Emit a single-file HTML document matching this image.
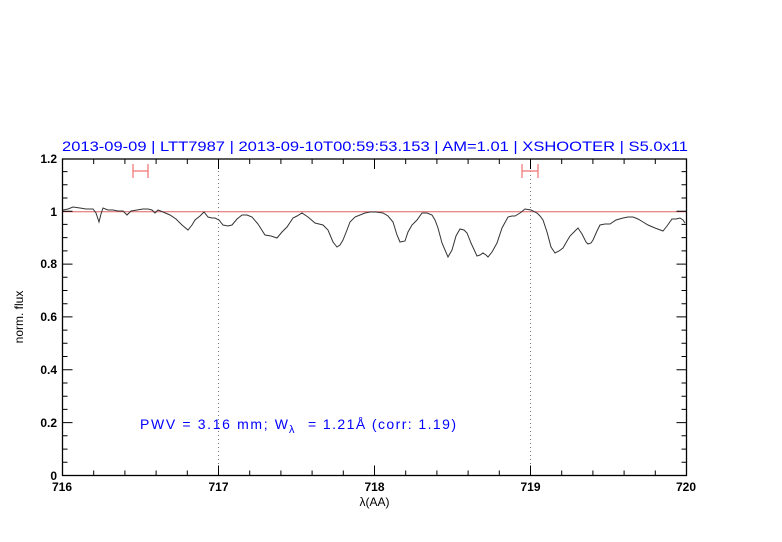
<!DOCTYPE html>
<html><head><meta charset="utf-8"><style>
html,body{margin:0;padding:0;background:#fff;}
svg{display:block;}
text{font-family:"Liberation Sans",sans-serif;}
</style></head><body>
<svg width="782" height="542" viewBox="0 0 782 542" xmlns="http://www.w3.org/2000/svg">
<rect width="782" height="542" fill="#fff"/>
<text x="62" y="151" font-size="14" fill="#0000ff" textLength="626" lengthAdjust="spacingAndGlyphs">2013-09-09 | LTT7987 | 2013-09-10T00:59:53.153 | AM=1.01 | XSHOOTER | S5.0x11</text>
<line x1="62.5" y1="211.7" x2="686.5" y2="211.7" stroke="#e06060" stroke-width="1"/>
<line x1="218.5" y1="159" x2="218.5" y2="475.5" stroke="#777" stroke-width="1" stroke-dasharray="1,3"/>
<line x1="530.5" y1="159" x2="530.5" y2="475.5" stroke="#777" stroke-width="1" stroke-dasharray="1,3"/>
<g stroke="#f07070" stroke-width="1.2" fill="none">
<line x1="133" y1="171" x2="148" y2="171"/><line x1="133" y1="164" x2="133" y2="178"/><line x1="148" y1="164" x2="148" y2="178"/>
<line x1="522" y1="171" x2="538" y2="171"/><line x1="522" y1="164" x2="522" y2="178"/><line x1="538" y1="164" x2="538" y2="178"/>
</g>
<polyline fill="none" stroke="#333" stroke-width="1" points="63,210 68,209 73,207 80,208 86,209 93,209 96,213 99,222 101,214 103,208 108,210 113,210 118,211 123,211 127,215 131,211 137,210 143,209 148,209 152,210 155,213 158,210 163,212 170,215 176,219 182,225 188,230 192,225 195,220 200,216 204,212 208,217 212,218 215,218 219,220 223,225 228,226 232,225 237,219 242,215 247,215 252,217 258,224 265,235 271,236 277,238 282,232 287,227 293,218 297,216 302,213 308,217 315,223 319,224 323,225 328,230 333,242 337,247 340,245 343,240 347,230 350,222 355,217 360,215 365,213 370,212 376,212 383,213 388,216 393,222 397,235 400,242 405,241 408,232 412,225 417,220 422,213 427,213 432,215 435,220 438,228 442,243 448,257 452,250 456,236 460,229 464,230 467,233 471,243 477,256 480,255 483,253 486,255 488,257 492,252 497,243 502,228 508,217 512,216 515,216 520,213 525,209 531,210 537,213 540,216 543,220 547,232 551,247 555,253 559,251 563,248 567,241 570,236 575,231 578,228 582,234 586,242 588,244 591,243 593,240 597,231 600,225 605,224 610,224 616,220 623,218 628,217 633,217 638,219 643,222 648,225 655,228 663,231 667,226 672,219 676,219 680,218 683,220 685,223"/>
<rect x="62.5" y="159" width="624" height="316.5" fill="none" stroke="#000" stroke-width="1.3"/>
<g stroke="#000" stroke-width="1">
<path d="M218.5,475.5v-10M374.5,475.5v-10M530.5,475.5v-10M218.5,159v10M374.5,159v10M530.5,159v10"/>
<path d="M93.7,475.5v-5M124.9,475.5v-5M156.1,475.5v-5M187.3,475.5v-5M249.7,475.5v-5M280.9,475.5v-5M312.1,475.5v-5M343.3,475.5v-5M405.7,475.5v-5M436.9,475.5v-5M468.1,475.5v-5M499.3,475.5v-5M561.7,475.5v-5M592.9,475.5v-5M624.1,475.5v-5M655.3,475.5v-5
M93.7,159v5M124.9,159v5M156.1,159v5M187.3,159v5M249.7,159v5M280.9,159v5M312.1,159v5M343.3,159v5M405.7,159v5M436.9,159v5M468.1,159v5M499.3,159v5M561.7,159v5M592.9,159v5M624.1,159v5M655.3,159v5"/>
<path d="M62.5,422.6h10M62.5,369.8h10M62.5,316.9h10M62.5,264.1h10M62.5,211.2h10M686.5,422.6h-10M686.5,369.8h-10M686.5,316.9h-10M686.5,264.1h-10M686.5,211.2h-10"/>
<path d="M62.5,462.3h5M62.5,449.1h5M62.5,435.8h5M62.5,409.4h5M62.5,396.2h5M62.5,383h5M62.5,356.5h5M62.5,343.3h5M62.5,330.1h5M62.5,303.7h5M62.5,290.5h5M62.5,277.3h5M62.5,250.9h5M62.5,237.6h5M62.5,224.4h5M62.5,198h5M62.5,184.8h5M62.5,171.6h5
M686.5,462.3h-5M686.5,449.1h-5M686.5,435.8h-5M686.5,409.4h-5M686.5,396.2h-5M686.5,383h-5M686.5,356.5h-5M686.5,343.3h-5M686.5,330.1h-5M686.5,303.7h-5M686.5,290.5h-5M686.5,277.3h-5M686.5,250.9h-5M686.5,237.6h-5M686.5,224.4h-5M686.5,198h-5M686.5,184.8h-5M686.5,171.6h-5"/>
</g>
<g font-size="12" fill="#000" font-weight="bold">
<text x="62" y="491" text-anchor="middle">716</text>
<text x="218.5" y="491" text-anchor="middle">717</text>
<text x="374.5" y="491" text-anchor="middle">718</text>
<text x="530.5" y="491" text-anchor="middle">719</text>
<text x="686" y="491" text-anchor="middle">720</text>
<g text-anchor="end">
<text x="57" y="480">0</text>
<text x="57" y="427">0.2</text>
<text x="57" y="374">0.4</text>
<text x="57" y="321">0.6</text>
<text x="57" y="268">0.8</text>
<text x="57" y="216">1</text>
<text x="57" y="163">1.2</text>
</g>
<text x="374.5" y="506" text-anchor="middle" font-weight="normal">λ(AA)</text>
<text transform="translate(23,317) rotate(-90)" text-anchor="middle" font-weight="normal">norm. flux</text>
</g>
<g font-size="14" fill="#0000ff">
<text x="140" y="429" textLength="148" lengthAdjust="spacing" xml:space="preserve">PWV = 3.16 mm; W</text>
<text x="289" y="433" font-size="11">λ</text>
<text x="308" y="429" textLength="148" lengthAdjust="spacing" xml:space="preserve">= 1.21Å (corr: 1.19)</text>
</g>
</svg>
</body></html>
